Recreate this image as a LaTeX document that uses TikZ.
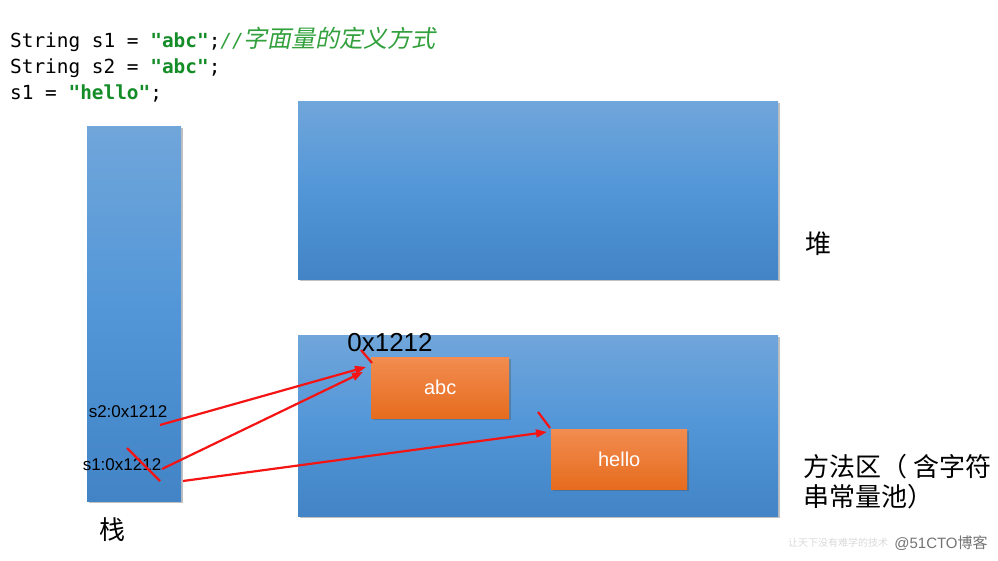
\documentclass[tikz,border=0pt]{standalone}
\usepackage{fontspec}
\setmainfont{Liberation Sans}
\setmonofont{DejaVu Sans Mono}
\newfontfamily\cjk{Noto Sans CJK SC}
\newfontfamily\cjkslant[FakeSlant=0.2]{Noto Sans CJK SC}
\usetikzlibrary{shadows,arrows.meta}
\definecolor{strgreen}{RGB}{20,140,40}
\definecolor{cmtgreen}{RGB}{50,160,60}
\definecolor{bluetop}{RGB}{112,166,218}
\definecolor{bluemid}{RGB}{82,150,216}
\definecolor{bluebot}{RGB}{66,132,198}
\definecolor{orgtop}{RGB}{242,140,80}
\definecolor{orgbot}{RGB}{230,108,30}
\definecolor{redline}{RGB}{245,20,20}
\tikzset{
  bluebox/.style={anchor=north west, inner sep=0, draw=none,
    top color=bluetop, bottom color=bluebot, middle color=bluemid,
    drop shadow={shadow xshift=2pt, shadow yshift=-2pt, opacity=0.35, fill=black!70}},
  orangebox/.style={anchor=north west, inner sep=0, draw=none,
    top color=orgtop, bottom color=orgbot,
    drop shadow={shadow xshift=2pt, shadow yshift=-2pt, opacity=0.35, fill=black!70}},
  codeline/.style={anchor=base west, inner sep=0, font=\ttfamily\fontsize{19.4}{22}\selectfont},
  cjklabel/.style={inner sep=0, font=\cjk\fontsize{26}{30}\selectfont},
  varlabel/.style={inner sep=0, font=\fontsize{17}{20}\selectfont},
  ptr/.style={draw=redline, line width=2.2pt, -{Triangle[length=11pt,width=8pt]}},
  slash/.style={draw=redline, line width=2.2pt}
}
\begin{document}
\begin{tikzpicture}[x=1pt,y=-1pt]
\useasboundingbox (0,0) rectangle (998,561);
% code
\node[codeline] (code1) at (10,48) {String s1 = \textcolor{strgreen}{\textbf{"abc"}};\textcolor{cmtgreen}{\textit{//}{\cjkslant\fontsize{24}{24}\selectfont 字面量的定义方式}}};
\node[codeline] (code2) at (10,74) {String s2 = \textcolor{strgreen}{\textbf{"abc"}};};
\node[codeline] (code3) at (10,100) {s1 = \textcolor{strgreen}{\textbf{"hello"}};};
% boxes
\node[bluebox, minimum width=94, minimum height=375] (stack) at (87,126) {};
\node[bluebox, minimum width=480, minimum height=178] (heap) at (298,101) {};
\node[bluebox, minimum width=480, minimum height=181] (method) at (298,335) {};
\node[orangebox, minimum width=138, minimum height=61] (abc) at (371,357) {};
\node[orangebox, minimum width=136, minimum height=60] (hello) at (551,429) {};
\node[text=white, font=\fontsize{20}{20}\selectfont] (abctxt) at (abc.center) {abc};
\node[text=white, font=\fontsize{20}{20}\selectfont] (hellotxt) at (hello.center) {hello};
% labels
\node[cjklabel] (heaplbl) at (818,244) {堆};
\node[cjklabel, anchor=north west, align=left] (methodlbl) at (803,454) {方法区（ 含字符\\串常量池）};
\node[cjklabel] (stacklbl) at (112,530) {栈};
\node[inner sep=0, font=\fontsize{26}{26}\selectfont] (addr) at (390,343) {0x1212};
\node[varlabel] (s2lbl) at (128,412) {s2:0x1212};
\node[varlabel] (s1lbl) at (122,465) {s1:0x1212};
% watermark
\node[inner sep=0, text=black!15, font=\cjk\fontsize{10}{10}\selectfont] (slogan) at (838,543) {让天下没有难学的技术};
\node[inner sep=0, text=black!55, font=\fontsize{15}{15}\selectfont] (wm) at (941,543) {@51CTO{\cjk 博客}};
% connectors
\coordinate (s2start) at (160,425);
\coordinate (s1start) at (162,469);
\coordinate (s1new) at (183,481);
\coordinate (abcin1) at (366,367);
\coordinate (abcin2) at (363,372);
\coordinate (helloin) at (547,432);
\draw[ptr] (s2start) -- (abcin1);
\draw[ptr] (s1start) -- (abcin2);
\draw[ptr] (s1new) -- (helloin);
% slashes
\coordinate (x1a) at (127,448); \coordinate (x1b) at (160,481);
\coordinate (x2a) at (361,350); \coordinate (x2b) at (372,363);
\coordinate (x3a) at (538,412); \coordinate (x3b) at (550,428);
\draw[slash] (x1a) -- (x1b);
\draw[slash] (x2a) -- (x2b);
\draw[slash] (x3a) -- (x3b);
\end{tikzpicture}
\end{document}
